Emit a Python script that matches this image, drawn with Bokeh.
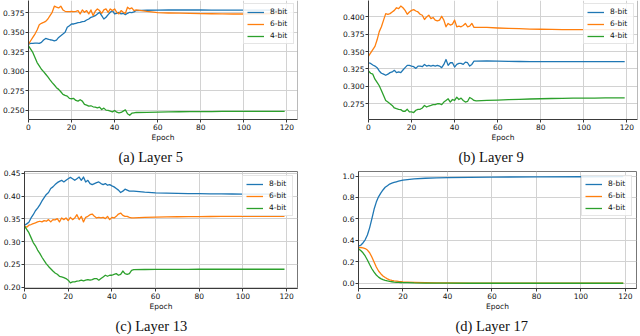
from bokeh.plotting import figure
from bokeh.models import Range1d, FixedTicker, PrintfTickFormatter, Title, Legend, LegendItem, Span
from bokeh.layouts import column, row
from bokeh.embed import file_html
from bokeh.resources import INLINE

# ---------------- data ----------------
EPOCHS = list(range(51)) + [55, 60, 65, 70, 75, 80, 85, 90, 95, 100, 105, 110, 115, 119]

A_8 = [0.3346, 0.3355, 0.3355, 0.3359, 0.3359, 0.3355, 0.3368, 0.3398, 0.3419, 0.3411,
       0.3402, 0.3398, 0.3389, 0.3398, 0.3432, 0.3454, 0.3475, 0.3497, 0.3561, 0.3582,
       0.3604, 0.3604, 0.3613, 0.3621, 0.3625, 0.3634, 0.3638, 0.3655, 0.3668, 0.3690,
       0.3698, 0.3711, 0.3733, 0.3754, 0.3711, 0.3668, 0.3690, 0.3724, 0.3754, 0.3776,
       0.3733, 0.3741, 0.3754, 0.3733, 0.3741, 0.3724, 0.3741, 0.3754, 0.3750, 0.3759,
       0.3776,
       0.3780, 0.3782, 0.3783, 0.3783, 0.3783, 0.3783, 0.3782, 0.3782, 0.3782, 0.3781,
       0.3781, 0.3781, 0.3781, 0.3781]
A_6 = [0.3346, 0.3389, 0.3432, 0.3475, 0.3527, 0.3595, 0.3613, 0.3625, 0.3638, 0.3668,
       0.3711, 0.3754, 0.3832, 0.3819, 0.3810, 0.3832, 0.3784, 0.3767, 0.3763, 0.3763,
       0.3767, 0.3763, 0.3767, 0.3776, 0.3733, 0.3784, 0.3754, 0.3776, 0.3733, 0.3784,
       0.3711, 0.3767, 0.3797, 0.3776, 0.3741, 0.3784, 0.3797, 0.3754, 0.3797, 0.3776,
       0.3797, 0.3754, 0.3733, 0.3776, 0.3754, 0.3741, 0.3819, 0.3797, 0.3810, 0.3776,
       0.3784,
       0.3765, 0.3750, 0.3745, 0.3742, 0.3740, 0.3737, 0.3735, 0.3733, 0.3732, 0.3732,
       0.3733, 0.3735, 0.3737, 0.3738]
A_4 = [0.3325, 0.3282, 0.3239, 0.3174, 0.3110, 0.3067, 0.3024, 0.2994, 0.2960, 0.2925,
       0.2887, 0.2852, 0.2822, 0.2788, 0.2766, 0.2736, 0.2702, 0.2689, 0.2680, 0.2650,
       0.2646, 0.2650, 0.2624, 0.2616, 0.2633, 0.2616, 0.2573, 0.2564, 0.2551, 0.2556,
       0.2543, 0.2539, 0.2530, 0.2539, 0.2508, 0.2526, 0.2500, 0.2496, 0.2487, 0.2478,
       0.2496, 0.2474, 0.2466, 0.2470, 0.2487, 0.2504, 0.2453, 0.2435, 0.2461, 0.2466,
       0.2470,
       0.2472, 0.2475, 0.2477, 0.2479, 0.2480, 0.2481, 0.2482, 0.2483, 0.2484, 0.2484,
       0.2485, 0.2485, 0.2485, 0.2485]

B_8 = [0.3340, 0.3330, 0.3307, 0.3292, 0.3269, 0.3222, 0.3189, 0.3175, 0.3160, 0.3175,
       0.3198, 0.3208, 0.3231, 0.3198, 0.3208, 0.3198, 0.3236, 0.3269, 0.3302, 0.3302,
       0.3292, 0.3283, 0.3259, 0.3292, 0.3292, 0.3283, 0.3316, 0.3292, 0.3302, 0.3292,
       0.3302, 0.3292, 0.3302, 0.3292, 0.3269, 0.3316, 0.3387, 0.3302, 0.3340, 0.3340,
       0.3278, 0.3316, 0.3330, 0.3330, 0.3316, 0.3349, 0.3340, 0.3292, 0.3316, 0.3363,
       0.3363,
       0.3365, 0.3362, 0.3360, 0.3358, 0.3357, 0.3356, 0.3356, 0.3355, 0.3355, 0.3355,
       0.3355, 0.3355, 0.3355, 0.3355]
B_6 = [0.3434, 0.3481, 0.3528, 0.3575, 0.3670, 0.3788, 0.3858, 0.3953, 0.4047, 0.4038,
       0.4047, 0.4071, 0.4094, 0.4132, 0.4118, 0.4156, 0.4132, 0.4094, 0.4038, 0.4071,
       0.4094, 0.4104, 0.4085, 0.4071, 0.4038, 0.4024, 0.3962, 0.4000, 0.4024, 0.3976,
       0.3991, 0.3953, 0.3943, 0.3953, 0.4009, 0.3953, 0.3858, 0.3906, 0.3882, 0.3896,
       0.3953, 0.3858, 0.3868, 0.3858, 0.3877, 0.3906, 0.3858, 0.3868, 0.3906, 0.3849,
       0.3849,
       0.3848, 0.3840, 0.3835, 0.3830, 0.3825, 0.3822, 0.3820, 0.3818, 0.3817, 0.3816,
       0.3816, 0.3816, 0.3816, 0.3816]
B_4 = [0.3222, 0.3189, 0.3175, 0.3104, 0.3057, 0.3009, 0.2939, 0.2868, 0.2797, 0.2774,
       0.2750, 0.2726, 0.2689, 0.2679, 0.2670, 0.2665, 0.2642, 0.2642, 0.2670, 0.2632,
       0.2632, 0.2623, 0.2656, 0.2670, 0.2670, 0.2689, 0.2726, 0.2703, 0.2717, 0.2726,
       0.2736, 0.2736, 0.2750, 0.2750, 0.2736, 0.2774, 0.2797, 0.2821, 0.2774, 0.2811,
       0.2797, 0.2844, 0.2811, 0.2830, 0.2797, 0.2774, 0.2783, 0.2840, 0.2821, 0.2797,
       0.2792,
       0.2797, 0.2803, 0.2808, 0.2813, 0.2818, 0.2822, 0.2825, 0.2828, 0.2830, 0.2831,
       0.2832, 0.2833, 0.2833, 0.2833]

C_8 = [0.3362, 0.3391, 0.3427, 0.3521, 0.3593, 0.3679, 0.3737, 0.3809, 0.3895, 0.3967,
       0.4039, 0.4082, 0.4169, 0.4205, 0.4255, 0.4298, 0.4327, 0.4349, 0.4313, 0.4349,
       0.4385, 0.4414, 0.4385, 0.4349, 0.4385, 0.4421, 0.4349, 0.4421, 0.4313, 0.4349,
       0.4277, 0.4255, 0.4277, 0.4298, 0.4313, 0.4277, 0.4255, 0.4277, 0.4241, 0.4255,
       0.4226, 0.4205, 0.4169, 0.4133, 0.4082, 0.4111, 0.4154, 0.4133, 0.4111, 0.4111,
       0.4111,
       0.4090, 0.4075, 0.4068, 0.4062, 0.4058, 0.4055, 0.4052, 0.4050, 0.4048, 0.4047,
       0.4046, 0.4045, 0.4045, 0.4045]
C_6 = [0.3341, 0.3319, 0.3362, 0.3377, 0.3398, 0.3413, 0.3434, 0.3449, 0.3434, 0.3463,
       0.3449, 0.3485, 0.3434, 0.3485, 0.3478, 0.3506, 0.3434, 0.3521, 0.3485, 0.3521,
       0.3463, 0.3535, 0.3485, 0.3521, 0.3593, 0.3485, 0.3557, 0.3434, 0.3535, 0.3557,
       0.3593, 0.3607, 0.3557, 0.3521, 0.3535, 0.3521, 0.3535, 0.3506, 0.3557, 0.3485,
       0.3535, 0.3521, 0.3557, 0.3607, 0.3629, 0.3578, 0.3557, 0.3557, 0.3535, 0.3521,
       0.3521,
       0.3535, 0.3540, 0.3545, 0.3548, 0.3550, 0.3552, 0.3553, 0.3554, 0.3555, 0.3556,
       0.3556, 0.3557, 0.3557, 0.3557]
C_4 = [0.3341, 0.3269, 0.3197, 0.3089, 0.2981, 0.2909, 0.2815, 0.2743, 0.2657, 0.2585,
       0.2513, 0.2455, 0.2405, 0.2354, 0.2311, 0.2282, 0.2239, 0.2225, 0.2210, 0.2189,
       0.2153, 0.2095, 0.2117, 0.2117, 0.2131, 0.2138, 0.2153, 0.2138, 0.2153, 0.2167,
       0.2153, 0.2167, 0.2189, 0.2189, 0.2153, 0.2189, 0.2225, 0.2261, 0.2239, 0.2261,
       0.2261, 0.2282, 0.2297, 0.2261, 0.2282, 0.2354, 0.2297, 0.2282, 0.2297, 0.2369,
       0.2383,
       0.2388, 0.2390, 0.2391, 0.2392, 0.2392, 0.2393, 0.2393, 0.2393, 0.2393, 0.2393,
       0.2393, 0.2393, 0.2393, 0.2393]

D_EPOCHS = list(range(21)) + [22, 25, 30, 35, 40, 50, 60, 80, 100, 119]
D_8 = [0.346, 0.355, 0.376, 0.406, 0.450, 0.517, 0.600, 0.690, 0.757, 0.806, 0.840,
       0.870, 0.895, 0.910, 0.925, 0.933, 0.940, 0.946, 0.952, 0.957, 0.961,
       0.967, 0.973, 0.979, 0.982, 0.985, 0.988, 0.990, 0.992, 0.993, 0.994]
D_6 = [0.333, 0.334, 0.330, 0.324, 0.310, 0.285, 0.245, 0.198, 0.152, 0.115, 0.090,
       0.069, 0.054, 0.042, 0.033, 0.028, 0.024, 0.021, 0.018, 0.016, 0.014,
       0.012, 0.009, 0.006, 0.005, 0.004, 0.003, 0.003, 0.002, 0.002, 0.002]
D_4 = [0.321, 0.306, 0.285, 0.255, 0.218, 0.175, 0.136, 0.104, 0.078, 0.058, 0.044,
       0.034, 0.027, 0.022, 0.018, 0.015, 0.012, 0.010, 0.009, 0.008, 0.007,
       0.006, 0.004, 0.003, 0.002, 0.002, 0.001, 0.001, 0.001, 0.001, 0.001]

SERIES_NAMES = ["8-bit", "6-bit", "4-bit"]
COLORS = ["#1f77b4", "#ff7f0e", "#2ca02c"]
X_TICKS = [0, 20, 40, 60, 80, 100, 120]

A_YTICKS = [0.250, 0.275, 0.300, 0.325, 0.350, 0.375]
B_YTICKS = [0.275, 0.300, 0.325, 0.350, 0.375, 0.400]
C_YTICKS = [0.20, 0.25, 0.30, 0.35, 0.40, 0.45]
D_YTICKS = [0.0, 0.2, 0.4, 0.6, 0.8, 1.0]

CAPTIONS = ["(a) Layer 5", "(b) Layer 9", "(c) Layer 13", "(d) Layer 17"]

TICK_FONT = "DejaVu Sans"
AX_COLOR = "#3a3a3a"
X_END = 124.95


def make_panel(epochs, series, yr, yticks, fmt, caption, left, right, top, bottom,
               cap_offset, cap_standoff, top_cut, leg_margin):
    p = figure(width=320, height=168, output_backend="svg", toolbar_location=None,
               x_range=Range1d(0, X_END), y_range=Range1d(*yr),
               min_border_left=left, min_border_right=right,
               min_border_top=top, min_border_bottom=bottom,
               background_fill_color="white", border_fill_color="white")
    renderers = []
    for vals, c in zip(series, COLORS):
        r = p.line(epochs, vals, line_color=c, line_width=1.3, line_join="round")
        renderers.append(r)

    for ax in (p.xaxis[0], p.yaxis[0]):
        ax.axis_line_color = AX_COLOR
        ax.axis_line_width = 1
        ax.major_tick_line_color = AX_COLOR
        ax.major_tick_out = 3
        ax.major_tick_in = 0
        ax.minor_tick_line_color = None
        ax.major_label_text_font = TICK_FONT
        ax.major_label_text_font_size = "7.5px"
        ax.major_label_text_color = "#111111"
        ax.major_label_standoff = 1
    p.xaxis[0].ticker = FixedTicker(ticks=X_TICKS)
    p.yaxis[0].ticker = FixedTicker(ticks=yticks)
    p.yaxis[0].formatter = PrintfTickFormatter(format=fmt)
    p.xaxis[0].axis_label = "Epoch"
    p.xaxis[0].axis_label_text_font = TICK_FONT
    p.xaxis[0].axis_label_text_font_size = "7.5px"
    p.xaxis[0].axis_label_text_font_style = "normal"
    p.xaxis[0].axis_label_text_color = "#111111"
    p.xaxis[0].axis_label_standoff = 0

    p.xgrid.grid_line_color = "#d2d2d2"
    p.ygrid.grid_line_color = "#d2d2d2"
    p.xgrid.grid_line_width = 1
    p.ygrid.grid_line_width = 1

    if top_cut:
        p.outline_line_alpha = 0
        p.add_layout(Span(location=X_END, dimension="height", line_color="#777777", line_width=1))
    else:
        p.outline_line_color = "#777777"
        p.outline_line_width = 1

    legend = Legend(items=[LegendItem(label=n, renderers=[r]) for n, r in zip(SERIES_NAMES, renderers)],
                    location="top_right", margin=leg_margin, padding=3, spacing=3,
                    label_text_font=TICK_FONT, label_text_font_size="7.5px",
                    label_text_color="#111111", label_height=8, glyph_height=8,
                    glyph_width=17, label_standoff=6,
                    border_line_color="#cccccc", border_line_width=1,
                    background_fill_color="white", background_fill_alpha=0.85)
    p.add_layout(legend)

    t = Title(text=caption, align="left", offset=cap_offset, standoff=cap_standoff,
              text_font="Liberation Serif", text_font_size="14.5px",
              text_font_style="normal", text_color="#111111")
    p.add_layout(t, "below")
    return p


pa = make_panel(EPOCHS, [A_8, A_6, A_4], (0.2380, 0.3905), A_YTICKS, "%.3f", CAPTIONS[0],
                25, 23, 0, 49, 90, 5, True, 3)
pb = make_panel(EPOCHS, [B_8, B_6, B_4], (0.2523, 0.4236), B_YTICKS, "%.3f", CAPTIONS[1],
                48, 3, 0, 47, 90, 5, True, 3)
pc = make_panel(EPOCHS, [C_8, C_6, C_4], (0.1970, 0.4543), C_YTICKS, "%.2f", CAPTIONS[2],
                21, 23, 3, 46, 91, 5, False, 4)
pd = make_panel(D_EPOCHS, [D_8, D_6, D_4], (-0.0480, 1.0420), D_YTICKS, "%.1f", CAPTIONS[3],
                38, 4, 1, 46, 97, 5, False, 4)

layout = column(row(pa, pb), row(pc, pd))

with open("out.html", "w") as f:
    f.write(file_html(layout, INLINE))
